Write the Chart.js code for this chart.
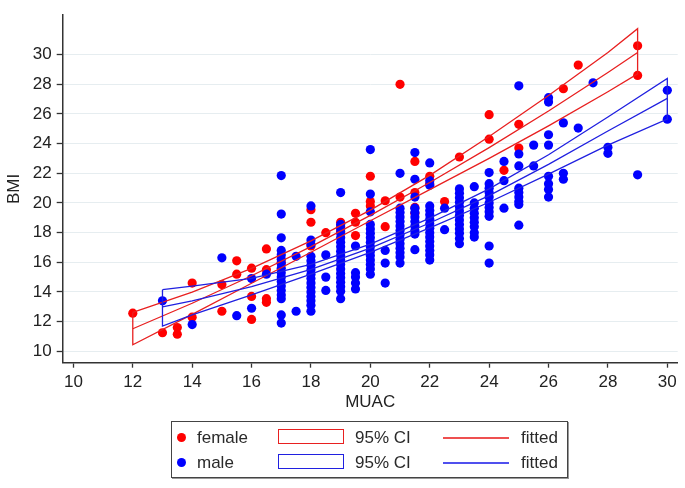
<!DOCTYPE html>
<html>
<head>
<meta charset="utf-8">
<script src="https://cdn.jsdelivr.net/npm/chart.js@4.4.1/dist/chart.umd.min.js"></script>
<style>
  body { margin: 0; background: #fff; }
  #wrap { position: relative; width: 685px; height: 488px; font-family: "Liberation Sans", Arial, sans-serif; color: #222; }
  #legend { position: absolute; left: 171px; top: 421px; width: 395px; height: 55px; border: 1.5px solid #444; box-shadow: 1px 1px 0 #999; }
  .lg { position: absolute; font-size: 17px; line-height: 20px; height: 20px; color: #2a2a2a; }
  .dot { position: absolute; width: 9px; height: 9px; border-radius: 50%; }
  .box { position: absolute; width: 64px; height: 13px; border: 1.5px solid; }
  .ln { position: absolute; width: 66px; height: 2px; }
</style>
</head>
<body>
<div id="wrap">
  <canvas id="scatterChart" width="685" height="488"></canvas>
  <div id="legend"></div>
  <div class="dot" style="left:177px;top:433px;background:#f00"></div>
  <div class="lg" style="left:197px;top:428px">female</div>
  <div class="box" style="left:278px;top:429px;border-color:#e82020"></div>
  <div class="lg" style="left:355px;top:428px">95% CI</div>
  <div class="ln" style="left:443px;top:437px;background:#ee5050"></div>
  <div class="lg" style="left:521px;top:428px">fitted</div>
  <div class="dot" style="left:177px;top:458px;background:#00f"></div>
  <div class="lg" style="left:197px;top:453px">male</div>
  <div class="box" style="left:278px;top:454px;border-color:#2020e0"></div>
  <div class="lg" style="left:355px;top:453px">95% CI</div>
  <div class="ln" style="left:443px;top:462px;background:#5050ee"></div>
  <div class="lg" style="left:521px;top:453px">fitted</div>
</div>
<script>
// MUAC values (columns) and the BMI values observed at each
var femaleMUAC = [12, 13, 13.5, 14, 15, 15.5, 16, 16.5, 17, 18, 18.5, 19, 19.5, 20, 20.5, 21, 21.5, 22, 22.5, 23, 24, 24.5, 25, 26.5, 27, 29];
var femaleBMI = [
    [12.57], [11.25], [11.15, 11.6], [14.6, 12.3], [14.5, 12.7], [16.1, 15.2],
    [15.6, 13.7, 12.15], [16.9, 15.5, 13.55, 13.3], [16.0], [19.55, 18.7, 17.1], [18.0],
    [18.7, 18.4, 18.1], [19.3, 18.7, 17.8], [21.8, 20.1, 19.8], [20.15, 18.4], [28.0, 20.4],
    [22.8, 20.7, 19.7, 19.3], [21.8, 21.3], [20.1], [23.1], [25.95, 24.3], [22.2],
    [25.3, 23.7], [27.7], [29.3], [30.6, 28.6]
];

var maleMUAC = [13, 14, 15, 15.5, 16, 16.5, 17, 17.5, 18, 18.5, 19, 19.5, 20, 20.5, 21, 21.5, 22, 22.5, 23, 23.5, 24, 24.5, 25, 25.5, 26, 26.5, 27, 27.5, 28, 29, 30];
var maleBMI = [
    [13.4], [11.8], [16.3], [12.4], [14.9, 12.9], [15.2],
    [21.85, 19.25, 17.65, 16.8, 16.5, 16.2, 15.9, 15.6, 15.3, 15.0, 14.7, 14.4, 14.1, 13.8, 13.55, 12.45, 11.9],
    [16.4, 12.7],
    [19.8, 17.5, 17.2, 16.4, 16.1, 15.8, 15.5, 15.2, 14.9, 14.6, 14.3, 14.0, 13.7, 13.4, 13.1, 12.7],
    [16.5, 15.0, 14.1],
    [20.7, 18.55, 18.25, 17.95, 17.65, 17.35, 17.05, 16.75, 16.45, 16.15, 15.85, 15.55, 15.25, 14.95, 14.65, 14.35, 14.05, 13.55],
    [17.1, 15.3, 15.0, 14.6, 14.2],
    [23.6, 20.6, 19.4, 18.55, 18.25, 17.95, 17.65, 17.35, 17.05, 16.75, 16.45, 16.15, 15.85, 15.55, 15.2],
    [16.8, 15.95, 14.6],
    [22.0, 19.65, 19.35, 19.05, 18.75, 18.45, 18.15, 17.85, 17.55, 17.25, 16.95, 16.65, 16.35, 15.95],
    [23.4, 21.6, 20.4, 19.65, 19.35, 19.05, 18.75, 18.45, 18.15, 17.9, 16.85],
    [22.7, 21.5, 21.2, 19.8, 19.5, 19.2, 18.9, 18.6, 18.3, 18.0, 17.7, 17.4, 17.1, 16.8, 16.5, 16.15],
    [19.65, 18.2],
    [20.95, 20.65, 20.35, 20.05, 19.75, 19.45, 19.15, 18.85, 18.55, 18.25, 17.95, 17.6, 17.25],
    [21.1, 20.0, 19.65, 19.3, 19.0, 18.7, 18.4, 18.0, 17.7],
    [22.05, 21.3, 21.0, 20.7, 20.4, 20.0, 19.7, 19.4, 19.1, 17.1, 15.95],
    [22.8, 21.5, 19.65],
    [27.9, 23.3, 22.5, 21.0, 20.7, 20.4, 20.1, 19.9, 18.5],
    [23.9, 22.5],
    [27.1, 26.8, 24.6, 23.9, 21.8, 21.3, 20.9, 20.4],
    [25.4, 22.0, 21.6],
    [25.05], [28.1], [23.75, 23.35], [21.9], [27.6, 25.65]
];

// fitted curves and 95% CI
var fitMUACf = [12, 14, 16, 18, 20, 22, 24, 26, 28, 29];
var fitFemale = [11.52, 13.24, 15.09, 17.06, 19.16, 21.38, 23.73, 26.20, 28.80, 30.15];
var ciUpFemale = [12.62, 13.99, 15.59, 17.44, 19.52, 21.86, 24.48, 27.25, 30.15, 31.75];
var ciLoFemale = [10.44, 12.49, 14.59, 16.68, 18.80, 20.90, 23.01, 25.20, 27.50, 28.70];

var fitMUACm = [13, 14, 16, 18, 20, 22, 24, 26, 28, 30];
var fitMale = [13.0, 13.4, 14.36, 15.53, 16.95, 18.65, 20.5, 22.6, 24.85, 27.05];
var ciUpMale = [14.15, 14.4, 14.91, 15.86, 17.23, 18.98, 20.95, 23.25, 25.8, 28.4];
var ciLoMale = [11.7, 12.45, 13.81, 15.2, 16.67, 18.32, 20.05, 21.95, 23.9, 25.65];

var xTicks = [10, 12, 14, 16, 18, 20, 22, 24, 26, 28, 30];
var yTicks = [10, 12, 14, 16, 18, 20, 22, 24, 26, 28, 30];

function columns(xs, ys) {
    var out = [];
    xs.forEach(function (x, i) {
        ys[i].forEach(function (y) { out.push({ x: x, y: y }); });
    });
    return out;
}
function curve(xs, ys) {
    return xs.map(function (x, i) { return { x: x, y: ys[i] }; });
}
function band(xs, up, lo) {
    var top = curve(xs, up);
    var bottom = curve(xs, lo).reverse();
    return top.concat(bottom, [top[0]]);
}

var red = '#e82020';
var blue = '#2020e0';
var font = { family: '"Liberation Sans", Arial, sans-serif', size: 17 };

var ctx = document.getElementById('scatterChart').getContext('2d');
var scatterChart = new Chart(ctx, {
    type: 'scatter',
    data: {
        datasets: [
            { label: '95% CI', data: band(fitMUACm, ciUpMale, ciLoMale), showLine: true, borderColor: blue, borderWidth: 1.3, pointRadius: 0, fill: false, order: 1 },
            { label: 'fitted', data: curve(fitMUACm, fitMale), showLine: true, borderColor: blue, borderWidth: 1.3, pointRadius: 0, fill: false, order: 1 },
            { label: '95% CI', data: band(fitMUACf, ciUpFemale, ciLoFemale), showLine: true, borderColor: red, borderWidth: 1.3, pointRadius: 0, fill: false, order: 2 },
            { label: 'fitted', data: curve(fitMUACf, fitFemale), showLine: true, borderColor: red, borderWidth: 1.3, pointRadius: 0, fill: false, order: 2 },
            { label: 'male', data: columns(maleMUAC, maleBMI), backgroundColor: '#0000ff', borderWidth: 0, pointRadius: 4.6, order: 3 },
            { label: 'female', data: columns(femaleMUAC, femaleBMI), backgroundColor: '#ff0000', borderWidth: 0, pointRadius: 4.6, order: 4 }
        ]
    },
    options: {
        responsive: false,
        animation: false,
        events: [],
        layout: { padding: { left: 0, top: 5, right: 7.3, bottom: 75.3 } },
        plugins: {
            legend: { display: false },
            tooltip: { enabled: false }
        },
        scales: {
            x: {
                type: 'linear',
                min: 9.64,
                max: 30.35,
                afterBuildTicks: function (s) { s.ticks = xTicks.map(function (v) { return { value: v }; }); },
                afterFit: function (s) { s.height = 50; },
                ticks: { font: font, color: '#222', padding: 4, maxRotation: 0, autoSkip: false },
                grid: { drawOnChartArea: false, tickLength: 5, tickColor: '#333', tickWidth: 1.3 },
                border: { color: '#333', width: 1.5 },
                title: { display: true, text: 'MUAC', font: font, color: '#222', padding: { top: 0, bottom: 0.5 } }
            },
            y: {
                type: 'linear',
                min: 9.23,
                max: 32.66,
                afterBuildTicks: function (s) { s.ticks = yTicks.map(function (v) { return { value: v }; }); },
                afterFit: function (s) { s.width = 62.7; },
                ticks: { font: font, color: '#222', padding: 5, autoSkip: false },
                grid: { color: '#e6edf0', lineWidth: 1, tickLength: 6, tickColor: '#333', tickWidth: 1.3 },
                border: { color: '#333', width: 1.5 },
                title: { display: true, text: 'BMI', font: font, color: '#222', padding: { top: 4, bottom: 0 } }
            }
        }
    }
});
</script>
</body>
</html>
